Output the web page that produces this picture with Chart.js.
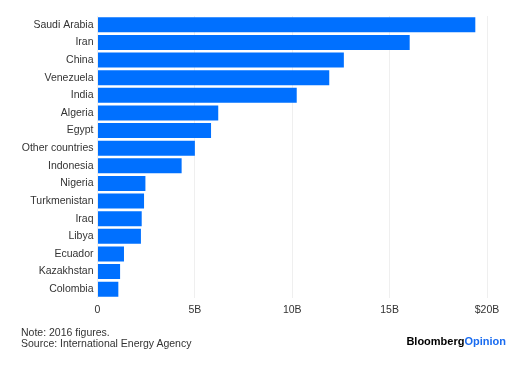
<!DOCTYPE html>
<html>
<head>
<meta charset="utf-8">
<script src="https://cdn.jsdelivr.net/npm/chart.js@4/dist/chart.umd.min.js"></script>
<style>
  html, body { margin: 0; padding: 0; background: #fff; }
  #wrap { position: relative; width: 532px; height: 368px; overflow: hidden; }
  canvas { position: absolute; left: 0; top: 0; }
  .note { position: absolute; left: 21px; font-family: "Liberation Sans", Arial, sans-serif; font-size: 10.5px; color: #333; white-space: nowrap; }
  #logo { position: absolute; right: 26px; top: 335px; font-family: "Liberation Sans", Arial, sans-serif; font-size: 11px; font-weight: bold; color: #000; white-space: nowrap; letter-spacing: 0px; }
  #logo span { color: #1a6cf0; }
</style>
</head>
<body>
<div id="wrap">
  <canvas id="c" width="532" height="368"></canvas>
  <div class="note" style="top:326px">Note: 2016 figures.</div>
  <div class="note" style="top:337px">Source: International Energy Agency</div>
  <div id="logo">Bloomberg<span>Opinion</span></div>
</div>
<script>
const countries = ["Saudi Arabia","Iran","China","Venezuela","India","Algeria","Egypt","Other countries","Indonesia","Nigeria","Turkmenistan","Iraq","Libya","Ecuador","Kazakhstan","Colombia"];
const subsidiesB = [19.4, 16.03, 12.65, 11.9, 10.23, 6.2, 5.83, 5.0, 4.32, 2.46, 2.39, 2.27, 2.23, 1.36, 1.16, 1.07];
const xTickValues = [0, 5, 10, 15, 20];
const xTickLabels = ["0", "5B", "10B", "15B", "$20B"];

const FONT = "'Liberation Sans', Arial, sans-serif";

new Chart(document.getElementById('c'), {
  type: 'bar',
  data: {
    labels: countries,
    datasets: [{
      data: subsidiesB,
      backgroundColor: '#0070ff',
      borderWidth: 0,
      barPercentage: 0.85,
      categoryPercentage: 1.0
    }]
  },
  options: {
    indexAxis: 'y',
    responsive: false,
    animation: false,
    devicePixelRatio: 1,
    layout: { padding: { top: 16, right: 45, bottom: 50, left: 0 } },
    plugins: { legend: { display: false }, tooltip: { enabled: false } },
    scales: {
      x: {
        min: 0, max: 20,
        afterBuildTicks: (axis) => { axis.ticks = xTickValues.map(v => ({ value: v })); },
        afterFit: (axis) => { axis.height = 20; },
        grid: { color: '#efefef', lineWidth: 1, drawTicks: false },
        border: { display: false },
        ticks: {
          padding: 6,
          color: '#333',
          font: { family: FONT, size: 10.5 },
          callback: (v) => xTickLabels[xTickValues.indexOf(v)]
        }
      },
      y: {
        afterFit: (axis) => { axis.width = 97.5; },
        grid: { display: false, drawTicks: false },
        border: { display: false },
        ticks: {
          padding: 4,
          color: '#333',
          font: { family: FONT, size: 10.5 },
          autoSkip: false
        }
      }
    }
  }
});
</script>
</body>
</html>
